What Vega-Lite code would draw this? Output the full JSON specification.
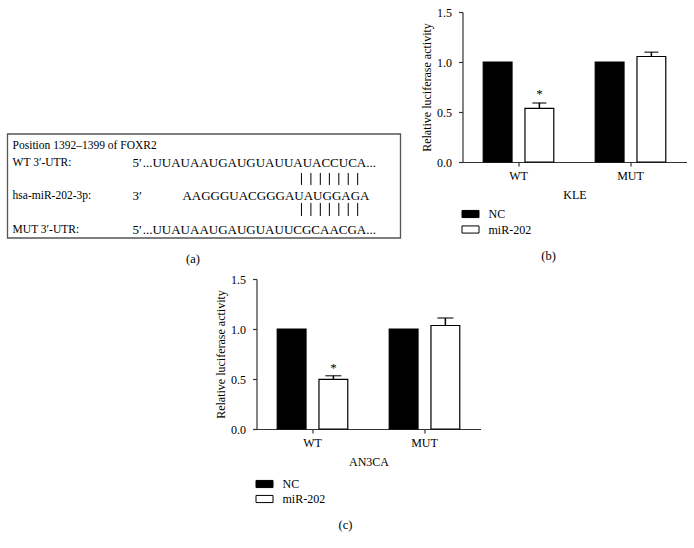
{
  "$schema": "https://vega.github.io/schema/vega-lite/v6.json",
  "padding": {"left": 6.5, "top": 6, "right": 5, "bottom": 5},
  "background": "white",
  "datasets": {
    "kle": [
      {"cond": "WT", "group": "NC", "value": 1.0, "err": null, "sig": ""},
      {"cond": "WT", "group": "miR-202", "value": 0.537, "err": 0.59, "sig": "*"},
      {"cond": "MUT", "group": "NC", "value": 1.0, "err": null, "sig": ""},
      {"cond": "MUT", "group": "miR-202", "value": 1.055, "err": 1.098, "sig": ""}
    ],
    "an3ca": [
      {"cond": "WT", "group": "NC", "value": 1.0, "err": null, "sig": ""},
      {"cond": "WT", "group": "miR-202", "value": 0.497, "err": 0.533, "sig": "*"},
      {"cond": "MUT", "group": "NC", "value": 1.0, "err": null, "sig": ""},
      {"cond": "MUT", "group": "miR-202", "value": 1.035, "err": 1.11, "sig": ""}
    ],
    "seqLabels": [
      {"x": 1.3, "y": 11.5, "label": "Position 1392–1399 of FOXR2"},
      {"x": 1.3, "y": 27.9, "label": "WT 3′-UTR:"},
      {"x": 1.3, "y": 59.6, "label": "hsa-miR-202-3p:"},
      {"x": 1.3, "y": 92.3, "label": "MUT 3′-UTR:"}
    ],
    "seqText": [
      {"x": 31.8, "y": 27.9, "label": "5′"},
      {"x": 34.4, "y": 27.9, "label": "...UUAUAAUGAUGUAUUAUACCUCA..."},
      {"x": 31.8, "y": 59.6, "label": "3′"},
      {"x": 44.5, "y": 59.6, "label": "AAGGGUACGGGAUAUGGAGA"},
      {"x": 31.8, "y": 92.3, "label": "5′"},
      {"x": 34.4, "y": 92.3, "label": "...UUAUAAUGAUGUAUUCGCAACGA..."}
    ],
    "pairs": [
      {"x": 74.8, "y1": 37.5, "y2": 49},
      {"x": 77.2, "y1": 37.5, "y2": 49},
      {"x": 79.6, "y1": 37.5, "y2": 49},
      {"x": 81.9, "y1": 37.5, "y2": 49},
      {"x": 84.3, "y1": 37.5, "y2": 49},
      {"x": 86.7, "y1": 37.5, "y2": 49},
      {"x": 89.1, "y1": 37.5, "y2": 49},
      {"x": 74.8, "y1": 66.3, "y2": 78.8},
      {"x": 77.2, "y1": 66.3, "y2": 78.8},
      {"x": 79.6, "y1": 66.3, "y2": 78.8},
      {"x": 81.9, "y1": 66.3, "y2": 78.8},
      {"x": 84.3, "y1": 66.3, "y2": 78.8},
      {"x": 86.7, "y1": 66.3, "y2": 78.8},
      {"x": 89.1, "y1": 66.3, "y2": 78.8}
    ]
  },
  "bounds": "flush",
  "spacing": 267,
  "resolve": {"scale": {"fill": "independent"}, "legend": {"fill": "independent"}},
  "vconcat": [
    {
      "bounds": "flush",
      "spacing": 62,
      "resolve": {"scale": {"fill": "independent"}, "legend": {"fill": "independent"}},
      "hconcat": [
        {
          "width": 393,
          "height": 226,
          "title": {"text": "(a)", "orient": "bottom", "anchor": "middle", "offset": 14, "dx": -11},
          "layer": [
            {
              "data": {"values": [{}]},
              "mark": {"type": "rect", "fill": "transparent", "stroke": "#555", "strokeWidth": 1.3},
              "encoding": {
                "x": {"datum": 0, "type": "quantitative", "scale": {"domain": [0, 100], "nice": false, "zero": false}, "axis": null},
                "x2": {"datum": 100},
                "y": {"datum": 0, "type": "quantitative", "scale": {"domain": [-117.3, 100], "reverse": true, "nice": false, "zero": false}, "axis": null},
                "y2": {"datum": 100}
              }
            },
            {
              "data": {"name": "seqLabels"},
              "mark": {"type": "text", "align": "left", "baseline": "middle", "fontSize": 11.5, "color": "black"},
              "encoding": {
                "x": {"field": "x", "type": "quantitative", "axis": null},
                "y": {"field": "y", "type": "quantitative", "axis": null},
                "text": {"field": "label"}
              }
            },
            {
              "data": {"name": "seqText"},
              "mark": {"type": "text", "align": "left", "baseline": "middle", "fontSize": 13, "color": "black"},
              "encoding": {
                "x": {"field": "x", "type": "quantitative", "axis": null},
                "y": {"field": "y", "type": "quantitative", "axis": null},
                "text": {"field": "label"}
              }
            },
            {
              "data": {"name": "pairs"},
              "mark": {"type": "rule", "strokeWidth": 1, "color": "black"},
              "encoding": {
                "x": {"field": "x", "type": "quantitative", "axis": null},
                "y": {"field": "y1", "type": "quantitative", "axis": null},
                "y2": {"field": "y2"}
              }
            }
          ]
        },
        {
          "width": 224,
          "height": 150,
          "data": {"name": "kle"},
          "title": {"text": "(b)", "orient": "bottom", "anchor": "middle", "frame": "bounds", "offset": 14, "dx": -5},
          "encoding": {
            "x": {"field": "cond", "type": "nominal", "sort": ["WT", "MUT"], "scale": {"paddingInner": 0.37, "paddingOuter": 0.185}, "axis": {"title": "KLE"}},
            "xOffset": {"field": "group", "type": "nominal", "sort": ["NC", "miR-202"], "scale": {"paddingInner": 0.31, "paddingOuter": 0}}
          },
          "layer": [
            {
              "mark": {"type": "bar", "stroke": "black", "strokeWidth": 1.2},
              "encoding": {
                "y": {"field": "value", "type": "quantitative", "scale": {"domain": [0, 1.5], "nice": false}, "axis": {"title": "Relative luciferase activity", "values": [0, 0.5, 1, 1.5], "format": ".1f"}},
                "fill": {"field": "group", "type": "nominal", "scale": {"domain": ["NC", "miR-202"], "range": ["black", "white"]},
                  "legend": {"orient": "none", "legendX": -1, "legendY": 193, "title": null, "symbolType": "M-1,-0.42H1V0.42H-1Z", "symbolSize": 289, "symbolStrokeColor": "black", "symbolStrokeWidth": 1, "labelFontSize": 12, "labelOffset": 9, "rowPadding": 0.5}}
              }
            },
            {
              "transform": [{"filter": "datum.err != null"}],
              "mark": {"type": "rule", "strokeWidth": 1.5, "color": "black"},
              "encoding": {
                "y": {"field": "value", "type": "quantitative", "axis": {"title": "Relative luciferase activity", "values": [0, 0.5, 1, 1.5], "format": ".1f"}},
                "y2": {"field": "err"}
              }
            },
            {
              "transform": [{"filter": "datum.err != null"}],
              "mark": {"type": "tick", "thickness": 1.5, "size": 14, "color": "black"},
              "encoding": {
                "y": {"field": "err", "type": "quantitative", "axis": {"title": "Relative luciferase activity", "values": [0, 0.5, 1, 1.5], "format": ".1f"}}
              }
            },
            {
              "transform": [{"filter": "datum.sig != ''"}],
              "mark": {"type": "text", "baseline": "alphabetic", "dy": -5, "fontSize": 13, "color": "black"},
              "encoding": {
                "y": {"field": "err", "type": "quantitative", "axis": {"title": "Relative luciferase activity", "values": [0, 0.5, 1, 1.5], "format": ".1f"}},
                "text": {"field": "sig"}
              }
            }
          ]
        }
      ]
    },
    {
      "bounds": "flush",
      "spacing": 62,
      "resolve": {"scale": {"fill": "independent"}, "legend": {"fill": "independent"}},
      "hconcat": [
        {
          "width": 187,
          "height": 1,
          "data": {"values": []},
          "mark": "text"
        },
        {
          "width": 224,
          "height": 150,
          "data": {"name": "an3ca"},
          "title": {"text": "(c)", "orient": "bottom", "anchor": "middle", "frame": "bounds", "offset": 14, "dx": -2},
          "encoding": {
            "x": {"field": "cond", "type": "nominal", "sort": ["WT", "MUT"], "scale": {"paddingInner": 0.37, "paddingOuter": 0.185}, "axis": {"title": "AN3CA"}},
            "xOffset": {"field": "group", "type": "nominal", "sort": ["NC", "miR-202"], "scale": {"paddingInner": 0.31, "paddingOuter": 0}}
          },
          "layer": [
            {
              "mark": {"type": "bar", "stroke": "black", "strokeWidth": 1.2},
              "encoding": {
                "y": {"field": "value", "type": "quantitative", "scale": {"domain": [0, 1.5], "nice": false}, "axis": {"title": "Relative luciferase activity", "values": [0, 0.5, 1, 1.5], "format": ".1f"}},
                "fill": {"field": "group", "type": "nominal", "scale": {"domain": ["NC", "miR-202"], "range": ["black", "white"]},
                  "legend": {"orient": "none", "legendX": -1, "legendY": 196, "title": null, "symbolType": "M-1,-0.42H1V0.42H-1Z", "symbolSize": 289, "symbolStrokeColor": "black", "symbolStrokeWidth": 1, "labelFontSize": 12, "labelOffset": 9, "rowPadding": -1}}
              }
            },
            {
              "transform": [{"filter": "datum.err != null"}],
              "mark": {"type": "rule", "strokeWidth": 1.5, "color": "black"},
              "encoding": {
                "y": {"field": "value", "type": "quantitative", "axis": {"title": "Relative luciferase activity", "values": [0, 0.5, 1, 1.5], "format": ".1f"}},
                "y2": {"field": "err"}
              }
            },
            {
              "transform": [{"filter": "datum.err != null"}],
              "mark": {"type": "tick", "thickness": 1.5, "size": 16, "color": "black"},
              "encoding": {
                "y": {"field": "err", "type": "quantitative", "axis": {"title": "Relative luciferase activity", "values": [0, 0.5, 1, 1.5], "format": ".1f"}}
              }
            },
            {
              "transform": [{"filter": "datum.sig != ''"}],
              "mark": {"type": "text", "baseline": "alphabetic", "dy": -4, "fontSize": 13, "color": "black"},
              "encoding": {
                "y": {"field": "err", "type": "quantitative", "axis": {"title": "Relative luciferase activity", "values": [0, 0.5, 1, 1.5], "format": ".1f"}},
                "text": {"field": "sig"}
              }
            }
          ]
        }
      ]
    }
  ],
  "config": {
    "font": "Liberation Serif",
    "view": {"stroke": null},
    "axis": {
      "labelFontSize": 12, "titleFontSize": 12, "titleFontWeight": "normal",
      "labelColor": "black", "titleColor": "black",
      "domainColor": "#333", "tickColor": "#333", "domainWidth": 1.2, "tickWidth": 1.2,
      "tickSize": 4, "grid": false
    },
    "axisY": {"labelPadding": 7, "titlePadding": 3},
    "axisX": {"labelAngle": 0, "labelPadding": 4, "titlePadding": 8},
    "legend": {"labelColor": "black", "labelFont": "Liberation Serif"},
    "title": {"fontSize": 12.5, "fontWeight": "normal", "color": "black", "font": "Liberation Serif"}
  }
}
